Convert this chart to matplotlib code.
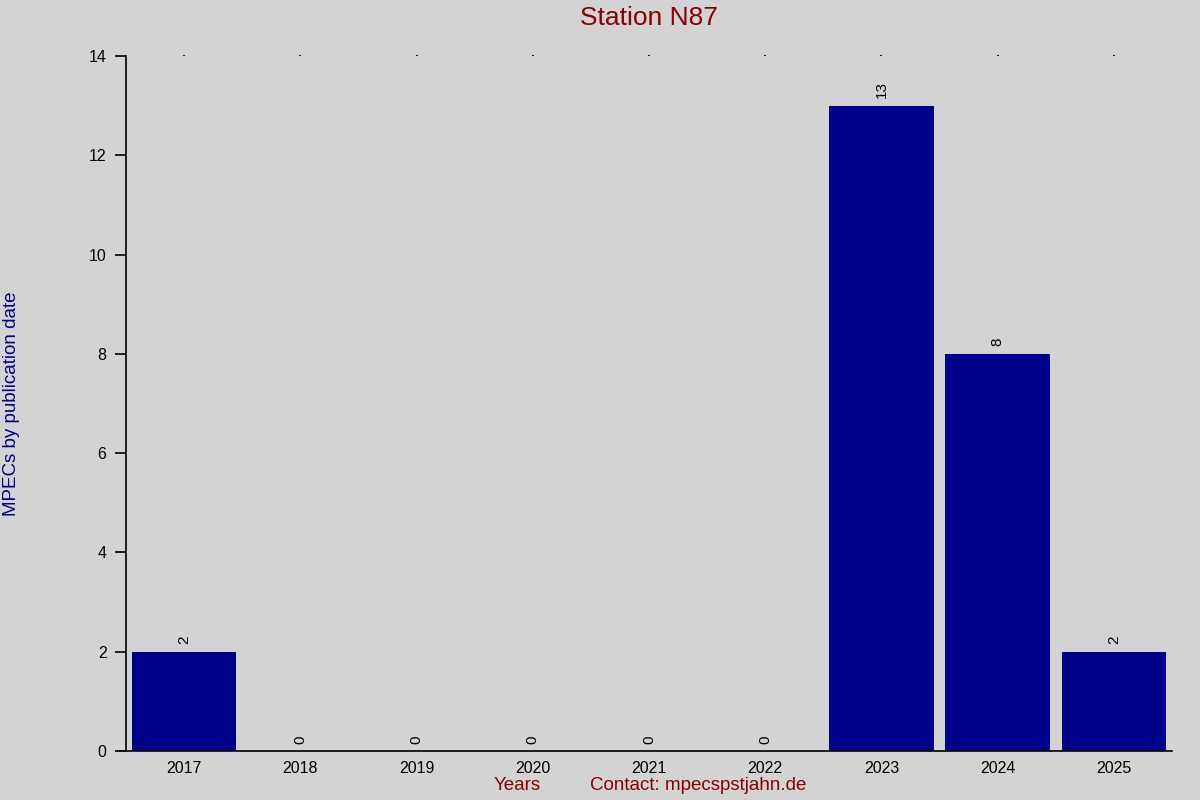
import matplotlib
matplotlib.use("Agg")
import matplotlib.pyplot as plt

# --- Data ---
years = ["2017", "2018", "2019", "2020", "2021", "2022", "2023", "2024", "2025"]
counts = [2, 0, 0, 0, 0, 0, 13, 8, 2]
y_ticks = [0, 2, 4, 6, 8, 10, 12, 14]

BG = "#d3d3d3"
BAR = "#00008b"
RED = "#8b0000"

plt.rcParams["font.family"] = ["Liberation Sans", "DejaVu Sans"]

fig = plt.figure(figsize=(12, 8), dpi=100, facecolor=BG)
ax = fig.add_axes([0.105, 0.06125, 0.8717, 0.86875], facecolor=BG)

x = list(range(len(years)))
ax.bar(x, counts, width=0.9, color=BAR)

for xi, c in zip(x, counts):
    ax.text(xi, c + 0.15, str(c), rotation=90, ha="center", va="bottom",
            fontsize=11, color="black")

ax.set_xlim(-0.5, len(years) - 0.5)
ax.set_ylim(0, 14)
ax.set_yticks(y_ticks)
ax.set_xticks(x)
ax.set_xticklabels(years)

for s in ["top", "right"]:
    ax.spines[s].set_visible(False)
ax.spines["left"].set_linewidth(1.2)
ax.spines["bottom"].set_linewidth(1.2)
ax.spines["bottom"].set_bounds(-0.57, len(years) - 0.5)

ax.tick_params(axis="y", direction="out", length=8, width=1.2, labelsize=11.5, pad=6)
ax.tick_params(axis="x", length=0, labelsize=11.5, pad=7)
# tiny dots at top of each column
ax.tick_params(axis="x", which="both", top=True, labeltop=False)
for t in ax.xaxis.get_major_ticks():
    t.tick2line.set_markersize(1)
    t.tick2line.set_markeredgewidth(1.2)
    t.tick2line.set_color("black")
    t.tick1line.set_visible(False)

fig.text(0.541, 0.9775, "Station N87", ha="center", va="center", fontsize=19, color=RED)
fig.text(0.01, 0.4956, "MPECs by publication date", rotation=90, ha="center",
         va="center", fontsize=13.5, color=BAR)
fig.text(0.431, 0.0175, "Years", ha="center", va="center", fontsize=13.5, color=RED)
fig.text(0.5815, 0.0175, "Contact: mpecspstjahn.de", ha="center", va="center",
         fontsize=13.5, color=RED)

fig.savefig("out.png", dpi=100, facecolor=BG)
